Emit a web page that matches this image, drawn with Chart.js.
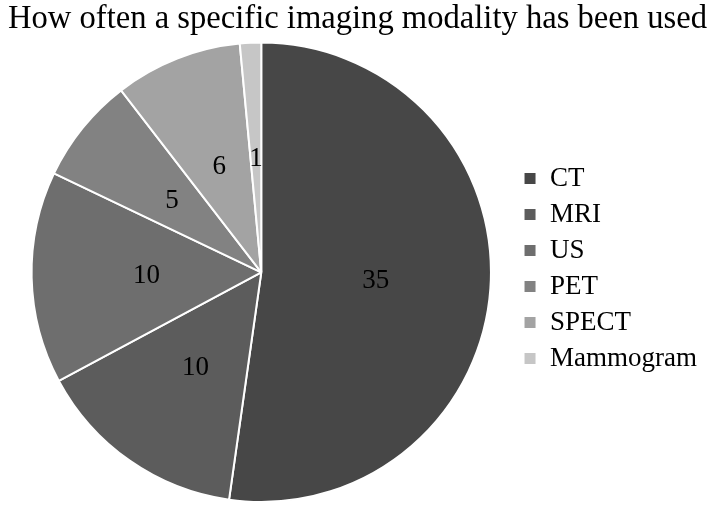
<!DOCTYPE html>
<html>
<head>
<meta charset="utf-8">
<script src="https://cdn.jsdelivr.net/npm/chart.js@4"></script>
<style>
  html, body { margin: 0; padding: 0; background: #fff; }
  #wrap { width: 709px; height: 505px; }
</style>
</head>
<body>
<div id="wrap"><canvas id="pieChart"></canvas></div>
<script>
// Imaging modality usage - pie chart

const modalities = ['CT', 'MRI', 'US', 'PET', 'SPECT', 'Mammogram'];
const counts = [35, 10, 10, 5, 6, 1];
const sliceColors = ['#474747', '#5c5c5c', '#6e6e6e', '#828282', '#a3a3a3', '#c6c6c6'];

const SERIF = '"Liberation Serif", "Times New Roman", serif';

// draw the value in each slice, at half radius
const sliceLabels = {
  id: 'sliceLabels',
  afterDatasetsDraw(chart) {
    const ctx = chart.ctx;
    const meta = chart.getDatasetMeta(0);
    ctx.save();
    ctx.font = '27px ' + SERIF;
    ctx.fillStyle = '#000';
    ctx.textAlign = 'center';
    ctx.textBaseline = 'middle';
    meta.data.forEach((arc, i) => {
      const p = arc.tooltipPosition();
      ctx.fillText(String(counts[i]), p.x, p.y + 1);
    });
    ctx.restore();
  }
};

new Chart(document.getElementById('pieChart'), {
  type: 'pie',
  data: {
    labels: modalities,
    datasets: [{
      data: counts,
      backgroundColor: sliceColors,
      borderColor: '#ffffff',
      borderWidth: 2
    }]
  },
  options: {
    responsive: true,
    maintainAspectRatio: false,
    animation: false,
    layout: { padding: { left: 8, right: 2, bottom: 2 } },
    plugins: {
      title: {
        display: true,
        text: 'How often a specific imaging modality has been used',
        color: '#000',
        font: { family: SERIF, size: 33, weight: 'normal' },
        padding: { top: 0, bottom: 2 }
      },
      legend: {
        position: 'right',
        // empty legend title only pushes the items down a bit
        title: { display: true, text: ' ', font: { size: 20 }, padding: 5 },
        labels: {
          color: '#000',
          font: { family: SERIF, size: 27 },
          boxWidth: 13,
          boxHeight: 13,
          padding: 9
        }
      },
      tooltip: { enabled: false }
    }
  },
  plugins: [sliceLabels]
});
</script>
</body>
</html>
